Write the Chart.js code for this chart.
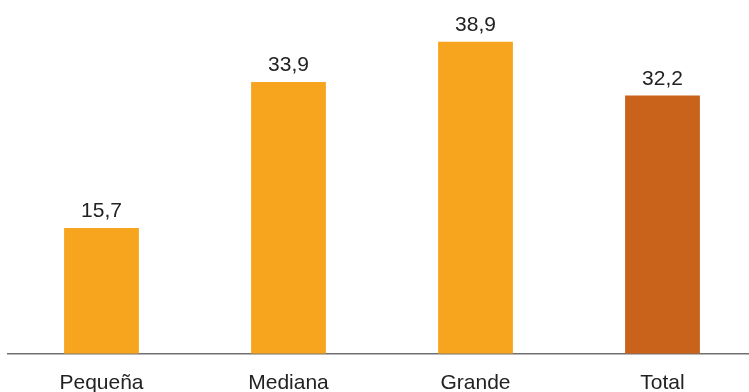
<!DOCTYPE html>
<html>
<head>
<meta charset="utf-8">
<script src="https://cdn.jsdelivr.net/npm/chart.js@4/dist/chart.umd.min.js"></script>
<style>
  html, body { margin: 0; padding: 0; background: #fff; overflow: hidden; }
  #wrap { width: 749px; height: 392px; overflow: hidden; position: relative; }
  #box { width: 756px; height: 420px; position: absolute; left: 0; top: 0; }
</style>
</head>
<body>
<div id="wrap"><div id="box"><canvas id="canvas"></canvas></div></div>
<script>
// data
const categories = ['Pequeña', 'Mediana', 'Grande', 'Total'];
const values = [15.7, 33.9, 38.9, 32.2];
const barColors = ['#F7A51E', '#F7A51E', '#F7A51E', '#C9621A'];

const FONT = "'Liberation Sans', Arial, sans-serif";

// draws the value over every bar, decimal comma
const valueLabels = {
  id: 'valueLabels',
  afterDatasetsDraw(chart) {
    const ctx = chart.ctx;
    const meta = chart.getDatasetMeta(0);
    ctx.save();
    ctx.font = '21px ' + FONT;
    ctx.fillStyle = '#222222';
    ctx.textAlign = 'center';
    ctx.textBaseline = 'alphabetic';
    meta.data.forEach(function(bar, i) {
      ctx.fillText(values[i].toFixed(1).replace('.', ','), bar.x, bar.y - 11);
    });
    ctx.restore();
  }
};

const ctx = document.getElementById('canvas').getContext('2d');
const chart = new Chart(ctx, {
  type: 'bar',
  data: {
    labels: categories,
    datasets: [{
      data: values,
      backgroundColor: barColors,
      barPercentage: 0.4,
      categoryPercentage: 1.0
    }]
  },
  options: {
    responsive: true,
    maintainAspectRatio: false,
    animation: false,
    layout: { padding: { left: 8, right: 0, top: 33, bottom: 7 } },
    plugins: { legend: { display: false }, tooltip: { enabled: false } },
    scales: {
      x: {
        grid: { display: false, drawTicks: false },
        border: { display: true, color: '#707070', width: 1.5 },
        ticks: { color: '#222222', font: { family: FONT, size: 21 }, padding: 17 }
      },
      y: {
        display: false,
        min: 0,
        max: 40
      }
    }
  },
  plugins: [valueLabels]
});
</script>
</body>
</html>
